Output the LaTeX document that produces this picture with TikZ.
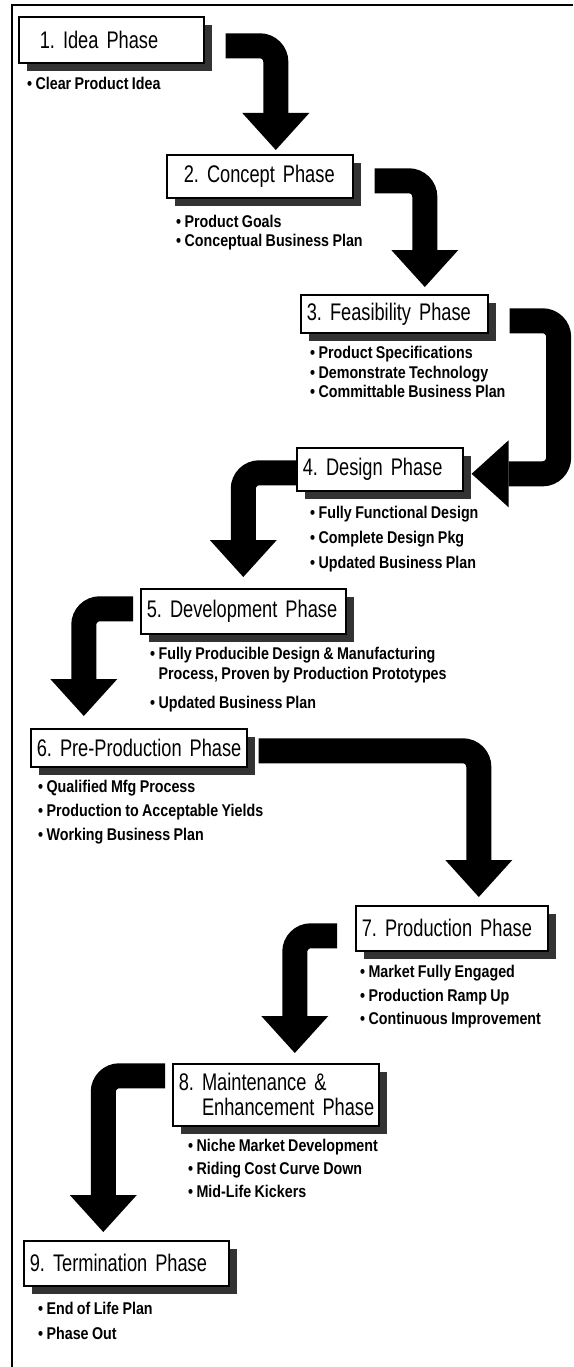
\documentclass[tikz,border=0pt]{standalone}
\usepackage{fontspec}
\newfontfamily\titlefont{Liberation Sans}[FakeStretch=0.76, WordSpace=0.72]
\newfontfamily\itemfont{Liberation Sans}[FakeStretch=0.84, WordSpace=0.85]
\frenchspacing
\usetikzlibrary{arrows.meta,shadows}
\tikzset{
  phase/.style={draw, line width=1.6pt, fill=white, anchor=north west, align=left,
    inner xsep=6pt, inner ysep=0pt, font=\titlefont\fontsize{24}{25}\selectfont,
    drop shadow={shadow xshift=8pt, shadow yshift=-8pt, fill=black!80, opacity=1}},
  goals/.style={anchor=north west, align=left, inner sep=0pt,
    font=\itemfont\bfseries\fontsize{17}{24}\selectfont},
  turn/.style={line width=25pt, rounded corners=16pt,
    -{Triangle[width=67pt,length=37pt,line width=0pt]}},
}
\begin{document}
\begin{tikzpicture}[x=1pt,y=-1pt]
	\useasboundingbox (0,0) rectangle (573,1367);
	% Frame
	\draw [line width=2pt] (573,5) -| (12,1367);
	% Phases
	\node [phase, text width=173pt, minimum height=46pt] (p1) at (18,16) {\hspace*{15pt}\mbox{1. Idea Phase}};
	\node [phase, text width=174pt, minimum height=43pt] (p2) at (166,154) {\hspace*{11pt}\mbox{2. Concept Phase}};
	\node [phase, text width=175pt, minimum height=38pt] (p3) at (300,294) {\mbox{3. Feasibility Phase}};
	\node [phase, text width=154pt, minimum height=43pt] (p4) at (296,447) {\mbox{4. Design Phase}};
	\node [phase, text width=193pt, minimum height=45pt] (p5) at (140,588) {\mbox{5. Development Phase}};
	\node [phase, text width=204pt, minimum height=38pt] (p6) at (30,728) {\mbox{6. Pre-Production Phase}};
	\node [phase, text width=180pt, minimum height=45pt] (p7) at (355,905) {\mbox{7. Production Phase}};
	\node [phase, text width=194pt, minimum height=62pt] (p8) at (172,1063) {\mbox{8. Maintenance \&}\\\mbox{\hphantom{8. }Enhancement Phase}};
	\node [phase, text width=193pt, minimum height=45pt] (p9) at (23,1240) {\mbox{9. Termination Phase}};
	% Results of each phase
	\node [goals] (g1) at (27,77) {• Clear Product Idea};
	\node [goals, font=\itemfont\bfseries\fontsize{17}{18.5}\selectfont] (g2) at (176,215) {• Product Goals\\• Conceptual Business Plan};
	\node [goals, font=\itemfont\bfseries\fontsize{17}{19.5}\selectfont] (g3) at (310,346) {• Product Specifications\\• Demonstrate Technology\\• Committable Business Plan};
	\node [goals, font=\itemfont\bfseries\fontsize{17}{25}\selectfont] (g4) at (310,506) {• Fully Functional Design\\• Complete Design Pkg\\• Updated Business Plan};
	\node [goals, font=\itemfont\bfseries\fontsize{17}{20}\selectfont] (g5) at (150,647) {• Fully Producible Design \& Manufacturing\\\hphantom{• }Process, Proven by Production Prototypes\\[9pt]• Updated Business Plan};
	\node [goals] (g6) at (38,780) {• Qualified Mfg Process\\• Production to Acceptable Yields\\• Working Business Plan};
	\node [goals, font=\itemfont\bfseries\fontsize{17}{23.5}\selectfont] (g7) at (360,965) {• Market Fully Engaged\\• Production Ramp Up\\• Continuous Improvement};
	\node [goals, font=\itemfont\bfseries\fontsize{17}{23}\selectfont] (g8) at (188,1139) {• Niche Market Development\\• Riding Cost Curve Down\\• Mid-Life Kickers};
	\node [goals, font=\itemfont\bfseries\fontsize{17}{25}\selectfont] (g9) at (38,1302) {• End of Life Plan\\• Phase Out};
	% Arrows between phases
	\draw [turn] ([xshift=21pt,yshift=-6pt]p1.east) -| ([xshift=16pt,yshift=4pt]p2.north);
	\draw [turn] ([xshift=21pt,yshift=-4.5pt]p2.east) -| ([xshift=30.5pt,yshift=7pt]p3.north);
	\draw [turn] ([xshift=21pt,yshift=-7pt]p3.east) -- ++(49pt,0) |- ([xshift=8pt,yshift=-4.5pt]p4.east);
	\draw [turn] ([yshift=-3.5pt]p4.west) -| ([yshift=11pt]p5.north);
	\draw [turn] ([xshift=-7pt,yshift=2.5pt]p5.west) -| ([xshift=-55pt,yshift=12pt]p6.north);
	\draw [turn] ([xshift=11pt,yshift=-3pt]p6.east) -| ([xshift=27pt,yshift=8pt]p7.north);
	\draw [turn] ([xshift=-18pt,yshift=-7.5pt]p7.west) -| ([xshift=19pt,yshift=10pt]p8.north);
	\draw [turn] ([xshift=-7pt,yshift=19pt]p8.west) -| ([xshift=-23pt,yshift=8pt]p9.north);
\end{tikzpicture}
\end{document}
